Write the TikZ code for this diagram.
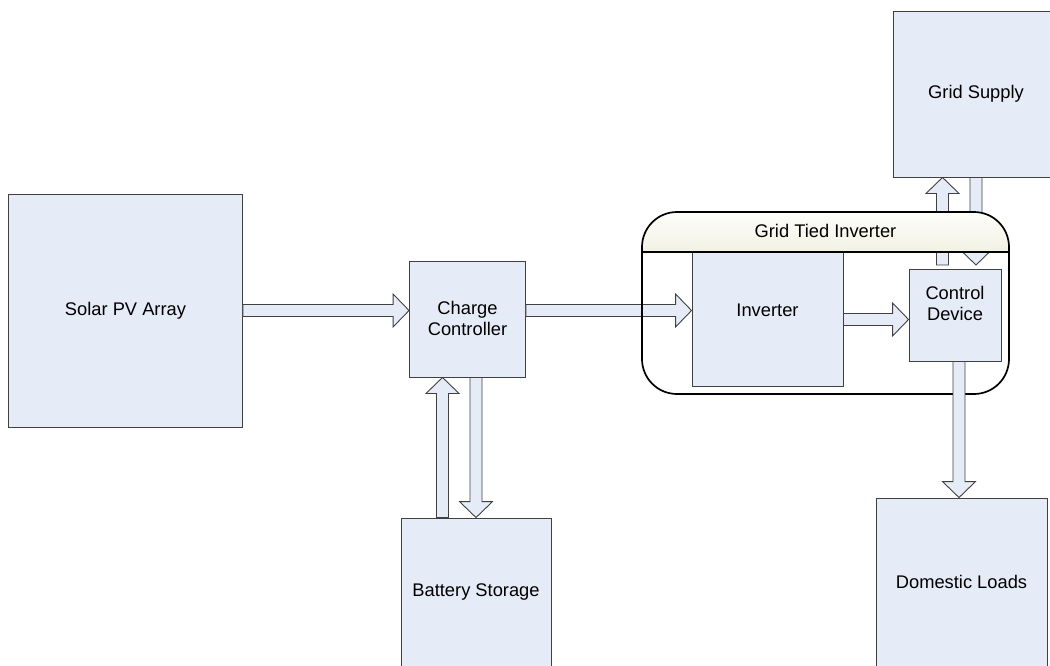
\documentclass[tikz,border=0pt]{standalone}
\usepackage{fontspec}
\setmainfont{Liberation Sans}
\usetikzlibrary{calc}
\definecolor{boxfill}{HTML}{E6ECF7}
\definecolor{boxline}{HTML}{404040}
\definecolor{hdtop}{HTML}{FEFEFB}
\definecolor{hdbot}{HTML}{F1F1E3}
\tikzset{
  blk/.style={draw=boxline, fill=boxfill, line width=0.9pt, inner sep=0pt, anchor=center},
  lbl/.style={font=\fontsize{18.3}{21}\selectfont, align=center, inner sep=0pt},
  barrow/.style={draw=boxline, fill=boxfill, line width=0.9pt, line join=miter},
}
% block arrow from #1 to #2: shaft half-width 6, head half-width 16.5, head length 16
\newcommand{\blockarrow}[2]{%
  \path[barrow] let \p1=(#1), \p2=(#2),
    \n1={veclen(\x2-\x1,\y2-\y1)},
    \n2={(\x2-\x1)/\n1}, \n3={(\y2-\y1)/\n1}, \n4={\n1-16} in
    ({\x1-6*\n3},{\y1+6*\n2})
    -- ({\x1+\n4*\n2-6*\n3},{\y1+\n4*\n3+6*\n2})
    -- ({\x1+\n4*\n2-16.5*\n3},{\y1+\n4*\n3+16.5*\n2})
    -- (\p2)
    -- ({\x1+\n4*\n2+16.5*\n3},{\y1+\n4*\n3-16.5*\n2})
    -- ({\x1+\n4*\n2+6*\n3},{\y1+\n4*\n3-6*\n2})
    -- ({\x1+6*\n3},{\y1-6*\n2}) -- cycle;}
\begin{document}
\begin{tikzpicture}[x=1pt,y=-1pt]
\useasboundingbox (0,0) rectangle (1050,665);
% boxes
\node[blk, minimum width=234, minimum height=233] (sol) at (125.5,310.5) {};
\node[lbl] (solt) at (sol.center) {Solar PV Array};
\node[blk, minimum width=116, minimum height=116] (cc) at (467.5,319) {};
\node[lbl] (cct) at (467.5,318) {Charge\\Controller};
\node[blk, minimum width=150, minimum height=148] (bat) at (476,592) {};
\node[lbl] (batt) at (476,592) {Battery Storage};
\node[blk, minimum width=151, minimum height=152] (inv) at (767.5,310) {};
\node[lbl] (invt) at (inv.center) {Inverter};
\node[blk, minimum width=92, minimum height=92] (ctrl) at (955,315) {};
\node[lbl] (ctrlt) at (955,303.5) {Control\\Device};
\node[blk, minimum width=166, minimum height=166] (grid) at (976,94) {};
\node[lbl] (gridt) at (grid.center) {Grid Supply};
\node[blk, minimum width=171, minimum height=168] (dom) at (961.5,582) {};
\node[lbl] (domt) at (dom.center) {Domestic Loads};
% anchor coordinates for connectors
\coordinate (ccA) at (cc.east |- sol.east);
\coordinate (invA) at (inv.west |- sol.east);
\coordinate (invB) at (inv.east |- 0,319.5);
\coordinate (ctrlB) at (ctrl.west |- 0,319.5);
\coordinate (ctrlU) at (942.5,265);
\coordinate (gridU) at (grid.south -| ctrlU);
\coordinate (ctrlD) at (grid.south |- ctrlU);
\coordinate (batU) at ($(bat.north)+(-33.5,0)$);
\coordinate (ccU) at (cc.south -| batU);
\coordinate (ccD) at (cc.south -| bat.north);
\coordinate (ctrlL) at (959,0 |- ctrl.south);
\coordinate (domL) at (dom.north -| ctrlL);
% arrows under the container
\blockarrow{ccA}{invA}
\blockarrow{ctrlU}{gridU}
\blockarrow{grid.south}{ctrlD}
% container
\shade[top color=hdtop, bottom color=hdbot]
  (642,252) [rounded corners=35]-- (642,212) -- (1009,212) [sharp corners]-- (1009,252) -- cycle;
\draw[line width=1.7pt, black, rounded corners=35] (642,212) rectangle (1009,394);
\draw[line width=1.7pt, black] (642,252) -- (1009,252);
\node[lbl] (gti) at (825.5,231) {Grid Tied Inverter};
% arrows on top
\blockarrow{sol.east}{cc.west |- sol.east}
\blockarrow{batU}{ccU}
\blockarrow{ccD}{bat.north}
\blockarrow{invB}{ctrlB}
\blockarrow{ctrlL}{domL}
\end{tikzpicture}
\end{document}
